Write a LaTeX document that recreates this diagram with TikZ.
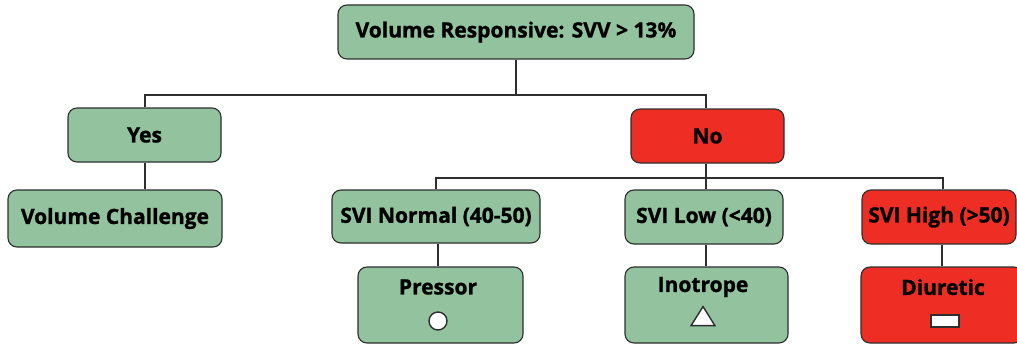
\documentclass[tikz,border=0pt]{standalone}
\usepackage{fontspec}
\setmainfont{Open Sans}[BoldFeatures={FakeBold=1.2}]
\usetikzlibrary{shapes.geometric}
\definecolor{boxgreen}{HTML}{92C29E}
\definecolor{boxred}{HTML}{EE2E24}
\definecolor{edge}{HTML}{2E2E2E}
\begin{document}
\begin{tikzpicture}[x=1pt,y=-1pt,
  box/.style={draw=edge,line width=1.1pt,rounded corners=9pt,inner sep=0pt,font=\fontsize{21}{24}\selectfont\bfseries},
  gbox/.style={box,fill=boxgreen},
  rbox/.style={box,fill=boxred},
  lbl/.style={inner sep=0pt,font=\fontsize{21}{24}\selectfont\bfseries},
  sym/.style={draw=edge,fill=white,line width=1.4pt,inner sep=0pt},
  conn/.style={draw=edge,line width=1.3pt}]
\useasboundingbox (0,0) rectangle (1017,345);
\coordinate (j1) at (516,95);
\coordinate (j2) at (706,178);
\node[gbox,minimum width=356pt,minimum height=54pt] (top) at (516,32) {Volume Responsive: SVV > 13\%};
\node[gbox,minimum width=153pt,minimum height=54pt] (yes) at (144.5,135) {Yes};
\node[rbox,minimum width=153pt,minimum height=54pt] (no) at (707.5,136) {No};
\node[gbox,minimum width=214pt,minimum height=57pt] (vc) at (115,218.5) {Volume Challenge};
\node[gbox,minimum width=208pt,minimum height=53pt] (svin) at (436,216.5) {SVI Normal (40-50)};
\node[gbox,minimum width=158pt,minimum height=54pt] (svil) at (704,217) {SVI Low (<40)};
\node[rbox,minimum width=154pt,minimum height=54pt] (svih) at (939,217) {SVI High (>50)};
\node[gbox,minimum width=165pt,minimum height=76pt] (pre) at (440.5,305) {};
\node[gbox,minimum width=163pt,minimum height=76pt] (ino) at (706.5,305) {};
\node[rbox,minimum width=162pt,minimum height=76pt] (diu) at (942,305) {};
\node[lbl] (pret) at (438,287) {Pressor};
\node[lbl] (inot) at (703,287) {Inotrope};
\node[lbl] (diut) at (943,287) {Diuretic};
\node[sym,circle,minimum size=18pt] (psym) at (438,321) {};
\node[sym,isosceles triangle,isosceles triangle apex angle=64,shape border rotate=90,minimum width=22pt,minimum height=19pt] (isym) at (703,319) {};
\node[sym,rectangle,minimum width=28pt,minimum height=12pt] (dsym) at (945,321) {};
% connectors
\draw[conn] (top.south) -- (j1);
\draw[conn] (yes.north -| 145,0) |- (j1) -| (no.north -| j2);
\draw[conn] (yes.south -| 145,0) -- (vc.north -| 145,0);
\draw[conn] (no.south -| j2) -- (j2);
\draw[conn] (svin.north -| 436,0) |- (j2) -| (svih.north -| 943,0);
\draw[conn] (svil.north -| j2) -- (j2);
\draw[conn] (svin.south -| 438,0) -- (pre.north -| 438,0);
\draw[conn] (svil.south -| j2) -- (ino.north -| j2);
\draw[conn] (svih.south -| 942,0) -- (diu.north -| 942,0);
\end{tikzpicture}
\end{document}
